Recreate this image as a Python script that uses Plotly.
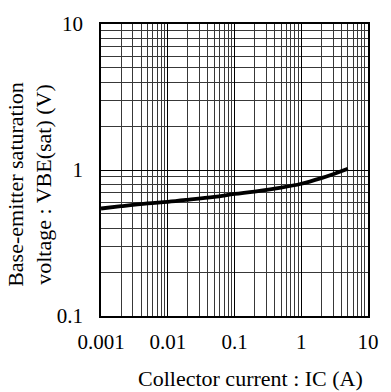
import plotly.graph_objects as go

# Collector current IC (A) and base-emitter saturation voltage VBE(sat) (V)
ic_amps = [0.001, 0.002, 0.005, 0.01, 0.02, 0.05, 0.1, 0.2, 0.5, 1, 2, 3, 5]
vbe_sat = [0.545, 0.565, 0.59, 0.605, 0.625, 0.655, 0.685, 0.712, 0.757, 0.805, 0.88, 0.935, 1.02]

x_ticks = [0.001, 0.01, 0.1, 1, 10]
x_tick_text = ["0.001", "0.01", "0.1", "1", "10"]
y_ticks = [0.1, 1, 10]
y_tick_text = ["0.1", "1", "10"]

x_title = "Collector current : IC (A)"
y_title = "Base-emitter saturation<br>voltage : VBE(sat) (V)"

FONT = "Liberation Serif, Times New Roman, serif"

fig = go.Figure()
fig.add_trace(go.Scatter(
    x=ic_amps, y=vbe_sat, mode="lines",
    line=dict(color="black", width=3.8, shape="spline"),
    showlegend=False, hoverinfo="skip",
))

axis_common = dict(
    type="log",
    showline=True, linecolor="black", linewidth=1.5, mirror=True,
    showgrid=True, gridcolor="black", gridwidth=1,
    ticks="inside", ticklen=7, tickcolor="black", tickwidth=1,
    tickfont=dict(family=FONT, size=21, color="black"),
    minor=dict(dtick="D1", showgrid=True, gridcolor="#383838", gridwidth=1, ticks=""),
    zeroline=False,
)

fig.update_xaxes(range=[-3, 1], tickvals=x_ticks, ticktext=x_tick_text,
                 ticklabelstandoff=6, **axis_common)
fig.update_yaxes(range=[-1, 1], tickvals=y_ticks, ticktext=y_tick_text,
                 ticklabelstandoff=12, **axis_common)

fig.add_annotation(
    text=x_title, xref="paper", yref="paper",
    x=(256 - 101) / 277, y=(316 - 395) / 299,
    xanchor="center", yanchor="bottom", showarrow=False,
    font=dict(family=FONT, size=22, color="black"),
)
fig.add_annotation(
    text=y_title, xref="paper", yref="paper",
    x=(27 - 101) / 277, y=(316 - 181) / 299,
    xanchor="center", yanchor="middle", textangle=-90, showarrow=False,
    font=dict(family=FONT, size=22, color="black"),
)

fig.update_layout(
    width=391, height=392,
    margin=dict(l=101, r=13, t=17, b=76),
    paper_bgcolor="white", plot_bgcolor="white",
)

fig.write_html("out.html")
